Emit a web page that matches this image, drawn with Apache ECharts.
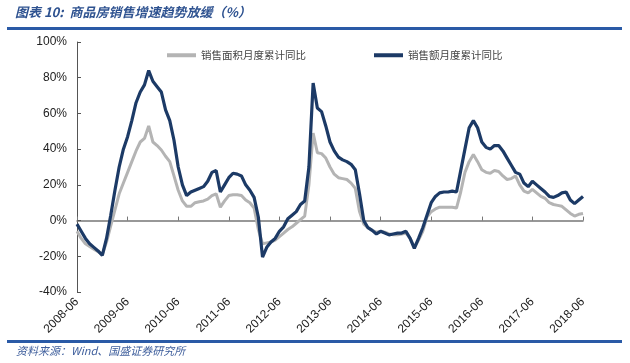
<!DOCTYPE html>
<html><head><meta charset="utf-8">
<script src="https://cdn.jsdelivr.net/npm/echarts@6/dist/echarts.min.js"></script>
<style>html,body{margin:0;padding:0;background:#fff}#c{width:630px;height:363px}</style>
</head><body><div id="c"></div>
<script>
// Months from 2008-06 to 2018-06
const months = [];
for (let y = 2008; y <= 2018; y++) {
  for (let m = 1; m <= 12; m++) {
    if ((y === 2008 && m < 6) || (y === 2018 && m > 6)) continue;
    months.push(y + '-' + (m < 10 ? '0' + m : m));
  }
}
const seriesNames = ['销售面积月度累计同比', '销售额月度累计同比'];
// 销售面积累计同比 (%)
const areaYoY = [
  -6, -10, -13, -14.5, -16, -17.5, -19,
  -12, -3, 6, 15, 21, 27, 33, 39, 44, 46, 53, 44,
  42, 39.5, 36, 33, 25, 17, 11, 8, 8, 10, 10.5, 11,
  12, 14, 15, 7.5, 11, 14, 14.5, 14.5, 14, 11.5, 10, 7,
  -5, -13, -12.5, -12, -11, -9, -7, -5, -3.5, -1.5, 0.5, 2.5,
  20, 49, 38, 37.5, 35, 30, 26, 24, 23.5, 23, 21, 18,
  5, -2, -4, -5.5, -6.5, -6, -6.5, -7.5, -8, -8, -7.5, -7,
  -10, -15, -11, -6, 2, 5, 6.5, 7.5, 7.5, 7.5, 7.5, 7,
  16, 27, 33, 37, 33, 28.5, 27, 26.5, 28, 27.5, 25, 23,
  23.5, 25, 20, 16.5, 15.5, 17.5, 15.5, 13.5, 12.5, 10, 9, 8.5,
  8, 6, 4, 2.5, 3.5, 4
];
// 销售额累计同比 (%)
const amountYoY = [
  -2, -6, -10, -13, -15, -17, -19.5,
  -10, 3, 17, 30, 40, 47, 56, 66, 72, 76, 84, 78,
  75, 72, 62, 56, 45, 30, 20, 14, 16, 17, 18, 19,
  22, 27, 28, 16, 20, 24, 26.5, 26, 25, 20, 17, 13,
  2, -20.5, -15, -12, -10, -6, -3.5, 1, 3, 5, 9, 11,
  30, 77, 63, 61, 53, 44, 39, 35.5, 34, 33, 31.5, 28.5,
  15, 0, -4, -5.5, -7.5, -6, -7, -8, -7.5, -7, -7, -6,
  -10, -15.5, -10, -4, 3, 10, 13.5, 15.5, 16, 16, 16.5, 16,
  28, 40, 52, 56, 52, 44, 41, 40, 42, 42, 39, 35,
  31, 27, 26, 21, 19, 22, 20, 18, 16, 13.5, 13, 14,
  15.5, 16, 11.5, 9.5, 11.5, 13.5
];
const yTicks = { min: -40, max: 100, interval: 20 };
const titleText = '图表 10:  商品房销售增速趋势放缓（%）';
const sourceText = '资料来源：Wind、国盛证券研究所';

const chart = echarts.init(document.getElementById('c'), null, { renderer: 'canvas' });
const isJune = (i) => i % 12 === 0;
chart.setOption({
  animation: false,
  backgroundColor: '#ffffff',
  grid: { left: 77, right: 47, top: 42, bottom: 71, containLabel: false },
  legend: {
    left: 162, top: 45, itemGap: 68, itemWidth: 29, itemHeight: 4,
    icon: 'rect',
    textStyle: { fontFamily: 'Noto Sans CJK SC', fontSize: 10.5, color: '#444' },
    data: seriesNames
  },
  graphic: [
    { type: 'text', left: 15, top: 6, style: { text: titleText, font: 'italic bold 13px "Noto Sans CJK SC"', fill: '#2e5290' } },
    { type: 'rect', shape: { x: 7, y: 27, width: 615, height: 3 }, style: { fill: '#2a5aa6' } },
    { type: 'rect', shape: { x: 7, y: 340, width: 615, height: 3 }, style: { fill: '#2a5aa6' } },
    { type: 'text', left: 16, top: 345, style: { text: sourceText, font: 'italic 11px "Noto Sans CJK SC"', fill: '#3e5e9c' } }
  ],
  xAxis: [
    {
      type: 'category', data: months, boundaryGap: false,
      axisLine: { onZero: true, lineStyle: { color: '#777', width: 1.5 } },
      axisTick: { inside: true, length: 4, interval: (i) => isJune(i), lineStyle: { color: '#777' } },
      axisLabel: { show: false }, splitLine: { show: false }
    },
    {
      type: 'category', data: months, boundaryGap: false, position: 'bottom',
      axisLine: { show: false, onZero: false }, axisTick: { show: false },
      axisLabel: {
        interval: (i) => isJune(i), rotate: 45, margin: 8,
        fontFamily: 'Liberation Sans', fontSize: 12, color: '#222'
      },
      splitLine: { show: false }
    }
  ],
  yAxis: {
    type: 'value', min: yTicks.min, max: yTicks.max, interval: yTicks.interval,
    axisLine: { show: true, lineStyle: { color: '#555', width: 1 } },
    axisTick: { show: true, inside: true, length: 4, lineStyle: { color: '#555' } },
    axisLabel: { formatter: '{value}%', fontFamily: 'Liberation Sans', fontSize: 12, color: '#222', margin: 10 },
    splitLine: { show: false }
  },
  series: [
    {
      name: seriesNames[0], type: 'line', data: areaYoY, xAxisIndex: 0,
      showSymbol: false, smooth: false, z: 2,
      lineStyle: { color: '#b4b4b4', width: 3 }, itemStyle: { color: '#b4b4b4' }
    },
    {
      name: seriesNames[1], type: 'line', data: amountYoY, xAxisIndex: 0,
      showSymbol: false, smooth: false, z: 3,
      lineStyle: { color: '#1c3a66', width: 3.2 }, itemStyle: { color: '#1c3a66' }
    }
  ]
});
</script>
</body></html>
